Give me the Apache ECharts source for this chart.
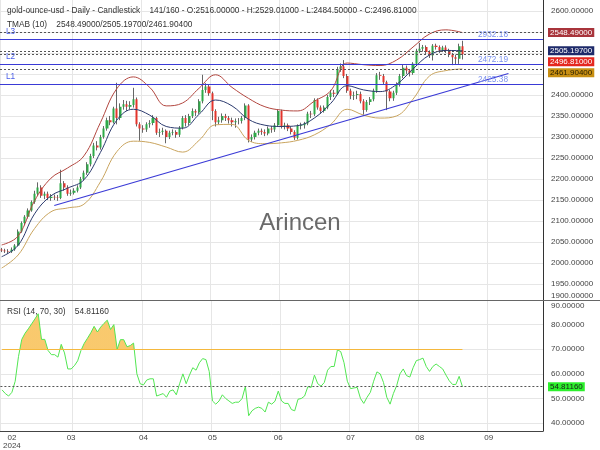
<!DOCTYPE html>
<html><head><meta charset="utf-8">
<script src="https://cdn.jsdelivr.net/npm/echarts@6/dist/echarts.min.js"></script>
<style>html,body{margin:0;padding:0;background:#fff}#c{width:600px;height:450px}</style>
</head><body><div id="c"></div>
<script>
const FONT = "'Liberation Sans', Arial, sans-serif";
const SLOTS = 165;
const headerText = 'gold-ounce-usd - Daily - Candlestick    141/160 - O:2516.00000 - H:2529.01000 - L:2484.50000 - C:2496.81000';
const tmabText = 'TMAB (10)    2548.49000/2505.19700/2461.90400';
const rsiText = 'RSI (14, 70, 30)    54.81160';

const opens = [2032,2030,2028,2027,2032,2042,2075,2095,2110,2125,
2145,2165,2180,2160,2165,2155,2158,2156,2155,2190,
2180,2165,2167,2172,2180,2200,2215,2235,2255,2280,
2275,2300,2320,2340,2335,2368,2345,2372,2378,2372,
2376,2390,2330,2320,2318,2330,2333,2345,2310,2312,
2315,2300,2310,2312,2305,2322,2345,2333,2350,2362,
2358,2385,2412,2420,2404,2362,2335,2340,2350,2345,
2340,2335,2338,2338,2345,2375,2294,2300,2310,2315,
2312,2308,2320,2318,2328,2362,2325,2328,2320,2312,
2298,2326,2328,2332,2355,2354,2388,2370,2362,2370,
2395,2405,2403,2462,2468,2445,2410,2398,2400,2402,
2385,2364,2383,2390,2410,2447,2445,2430,2408,2392,
2405,2425,2445,2465,2458,2452,2474,2505,2510,2514,
2502,2494,2517,2514,2506,2513,2506,2496,2490,2486,
2516];
const closes = [2030,2028,2027,2032,2042,2075,2095,2110,2125,2145,
2165,2180,2160,2165,2155,2158,2156,2155,2190,2180,
2165,2167,2172,2180,2200,2215,2235,2255,2280,2275,
2300,2320,2340,2335,2368,2345,2372,2378,2372,2376,
2390,2330,2320,2318,2330,2333,2345,2310,2312,2315,
2300,2310,2312,2305,2322,2345,2333,2350,2362,2358,
2385,2412,2420,2404,2362,2335,2340,2350,2345,2340,
2335,2338,2338,2345,2375,2294,2300,2310,2315,2312,
2308,2320,2318,2328,2362,2325,2328,2320,2312,2298,
2326,2328,2332,2355,2354,2388,2370,2362,2370,2395,
2405,2403,2462,2468,2445,2410,2398,2400,2402,2385,
2364,2383,2390,2410,2447,2445,2430,2408,2392,2405,
2425,2445,2465,2458,2452,2474,2505,2510,2514,2502,
2494,2517,2514,2506,2513,2506,2496,2490,2486,2516,
2496.81];
const lows = [2026,2024,2022,2024,2029,2040,2072,2090,2106,2122,
2141,2160,2155,2152,2150,2148,2150,2148,2152,2172,
2160,2160,2163,2168,2176,2196,2210,2230,2250,2268,
2270,2296,2315,2328,2332,2330,2340,2365,2362,2366,
2370,2325,2291,2310,2312,2322,2328,2305,2300,2305,
2285,2295,2304,2298,2300,2318,2325,2328,2345,2350,
2355,2380,2405,2398,2340,2325,2330,2334,2338,2332,
2325,2322,2330,2332,2340,2287,2288,2294,2304,2305,
2302,2304,2310,2312,2324,2320,2318,2314,2306,2293,
2294,2318,2320,2328,2345,2350,2365,2355,2358,2366,
2388,2395,2400,2455,2440,2405,2390,2388,2390,2380,
2353,2360,2376,2385,2405,2436,2425,2364,2385,2386,
2400,2420,2440,2450,2444,2448,2470,2500,2503,2497,
2488,2482,2508,2500,2502,2500,2490,2471,2472,2474,
2484.5];
const highs = [2036,2034,2033,2037,2045,2080,2099,2114,2130,2149,
2172,2192,2185,2170,2170,2164,2163,2162,2222,2195,
2185,2175,2178,2185,2205,2220,2240,2260,2286,2290,
2305,2326,2346,2350,2372,2429,2380,2388,2386,2385,
2417,2394,2335,2328,2335,2340,2352,2348,2320,2322,
2318,2315,2318,2316,2326,2350,2352,2355,2368,2366,
2390,2448,2428,2425,2408,2366,2348,2356,2355,2350,
2346,2344,2345,2350,2380,2378,2306,2315,2320,2320,
2318,2325,2326,2333,2366,2365,2334,2332,2325,2316,
2330,2334,2336,2360,2362,2392,2392,2375,2375,2400,
2412,2412,2467,2475,2483,2450,2415,2408,2410,2408,
2390,2388,2395,2415,2452,2455,2450,2434,2412,2410,
2430,2450,2472,2470,2462,2478,2510,2524,2519,2518,
2506,2521,2522,2518,2517,2518,2510,2500,2496,2522,
2529.01];

const bandIdx = [0,5,10,15,20,25,30,35,40,45,50,55,60,65,70,75,80,85,90,95,100,105,110,115,120,125,130,135,140];
const tmabUpper = [2043,2064,2148,2202,2226,2255,2334,2415,2443,2418,2374,2381,2416,2448,2418,2392,2372,2364,2362,2385,2410,2476,2472,2470,2483,2514,2545,2555,2548.49];
const tmabMid = [2015,2042,2117,2160,2178,2198,2263,2340,2366,2352,2325,2321,2354,2388,2374,2342,2328,2325,2327,2345,2380,2422,2412,2408,2425,2462,2495,2506,2505.197];
const tmabLower = [1988,2019,2082,2122,2131,2140,2193,2265,2290,2287,2276,2264,2292,2329,2330,2292,2284,2286,2292,2305,2330,2366,2352,2345,2350,2390,2445,2458,2461.904];

const rsi = [53.5,52,51,52.5,57,67,74,76.5,78.3,80.3,
82.3,84.4,74,74,69.5,67.8,67.8,66.8,72,68.5,
62,62,63.3,65.3,69.5,72.4,74.5,76.7,79.3,77,
79,80.5,81.8,78,80,70,73.9,73.9,71,71.5,
72.5,60,56,55.5,57.5,58,58,51,51.5,52,
50.5,53,53.5,51.5,56,60,56,59.5,62.5,61.5,
64.5,66.2,65.8,61,49,47.7,49,51.5,50,49,
48,48.5,48.5,50,54.9,43,45,46,46.5,46,
44.5,48.5,47.7,48.9,53,49,48,48,45.5,45,
49.7,50,51,54.8,54.5,59.5,56,55,56.5,61.5,
63,63,69.8,69,64.5,57,54,54.3,54.5,50,
48,50.5,52.5,57,60.8,60,56.5,50.5,47.7,52,
55.2,60,62,59.3,58.7,62.5,65.4,65.8,66.4,63,
61,63,64,63,62,59.5,57.2,55.7,55.7,59,
54.8116];

const trendPoints = [[16, 2137], [154, 2451]];
const levelValues = [2532.18, 2472.19, 2425.38];
const levelNames = ['L3', 'L2', 'L1'];
const levelTexts = ['2932.18', '2472.19', '2425.38'];
const tmabLast = [2548.49, 2505.197, 2461.904];
const lastClose = 2496.81;
const rsiLast = 54.8116;
const rsiOverbought = 70;

const priceTicks = [1950,2000,2050,2100,2150,2200,2250,2300,2350,2400,2450,2500,2550,2600];
const rsiTicks = [40,50,60,70,80,90];
const monthGridIdx = [0,22,43,64,85,106,127,148];
const monthLabelIdx = [3,21,43,64,84,106,127,148];
const monthLabelText = ['02\n2024','03','04','05','06','07','08','09'];

const cats = Array.from({length: SLOTS}, (_, i) => String(i));
const ohlc = opens.map((o, i) => [o, closes[i], lows[i], highs[i]]);
const gridSet = new Set(monthGridIdx);
const labelMap = {};
monthLabelIdx.forEach((ix, k) => { labelMap[ix] = monthLabelText[k]; });
const band = arr => bandIdx.map((ix, k) => [ix, arr[k]]);

const UP = '#2eaa48', DOWN = '#e3342c', BLUE = '#3a3ad6', LBLUE = '#7c92ee';
const gridLine = {show: true, lineStyle: {color: '#e6e6e6', width: 1}};

const levelMarks = [];
levelValues.forEach((v, k) => {
  levelMarks.push({yAxis: v, lineStyle: {color: BLUE, width: 1, type: 'solid'},
    label: {show: true, formatter: levelTexts[k], position: 'insideEndTop', distance: [35, 1], color: LBLUE, fontSize: 8.3, fontFamily: FONT}});
  levelMarks.push({yAxis: v, lineStyle: {color: 'rgba(0,0,0,0)', width: 1, type: 'solid'},
    label: {show: true, formatter: levelNames[k], position: 'insideStartTop', distance: [6, 4], color: '#4a5ee8', fontSize: 8.3, fontFamily: FONT}});
});
[...tmabLast, lastClose].forEach(v => {
  levelMarks.push({yAxis: v, lineStyle: {color: '#555', width: 1, type: [2, 2]}, label: {show: false}});
});

const titleStyle = {fontSize: 8.3, lineHeight: 9, fontWeight: 'normal', color: '#333', fontFamily: FONT};
const option = {
  animation: false,
  textStyle: {fontFamily: FONT},
  title: [
    {text: headerText, left: 7, top: 6, padding: 0, textStyle: titleStyle},
    {text: tmabText, left: 7, top: 20.5, padding: 0, textStyle: titleStyle},
    {text: rsiText, left: 7, top: 307, padding: 0, textStyle: titleStyle}
  ],
  grid: [
    {left: 0, right: 57, top: 0, height: 300},
    {left: 0, right: 57, top: 300, height: 132}
  ],
  xAxis: [
    {type: 'category', gridIndex: 0, data: cats, boundaryGap: true,
     axisLine: {show: false}, axisTick: {show: false}, axisLabel: {show: false},
     splitLine: {show: true, interval: (i) => gridSet.has(i), lineStyle: {color: '#e6e6e6'}}},
    {type: 'category', gridIndex: 1, data: cats, boundaryGap: true,
     axisLine: {show: true, lineStyle: {color: '#444'}}, axisTick: {show: false},
     axisLabel: {interval: (i) => labelMap[i] !== undefined, formatter: (v) => labelMap[+v] || '',
       fontSize: 8, lineHeight: 8, color: '#444', margin: 3, fontFamily: FONT},
     splitLine: {show: true, interval: (i) => gridSet.has(i), lineStyle: {color: '#e6e6e6'}}}
  ],
  yAxis: [
    {type: 'value', gridIndex: 0, position: 'right', min: 1912, max: 2626,
     axisLine: {show: true, lineStyle: {color: '#333'}},
     axisTick: {show: false, customValues: priceTicks},
     axisLabel: {customValues: [1912, ...priceTicks], formatter: (v) => (v < 1925 ? 1900 : v).toFixed(5),
       fontSize: 8, color: '#444', margin: 8, verticalAlignMinLabel: 'bottom', fontFamily: FONT},
     splitLine: gridLine},
    {type: 'value', gridIndex: 1, position: 'right', min: 36.8, max: 90,
     axisLine: {show: true, lineStyle: {color: '#333'}},
     axisTick: {show: false, customValues: rsiTicks},
     axisLabel: {customValues: rsiTicks, formatter: (v) => v.toFixed(5),
       fontSize: 8, color: '#444', margin: 8, verticalAlignMaxLabel: 'top', padding: [2, 0, 0, 0], fontFamily: FONT},
     splitLine: gridLine}
  ],
  visualMap: [{show: false, type: 'piecewise', seriesIndex: 6, dimension: 1,
    pieces: [{gte: 0, lt: rsiOverbought, color: 'rgba(247,190,80,0)'}, {gte: rsiOverbought, lte: 100, color: '#f8c054'}]}],
  series: [
    {type: 'candlestick', name: 'wick', xAxisIndex: 0, yAxisIndex: 0, data: ohlc, barWidth: 0.1, silent: true,
     itemStyle: {color: 'transparent', color0: 'transparent', borderColor: '#666', borderColor0: '#666', borderWidth: 1}},
    {type: 'candlestick', name: 'body', xAxisIndex: 0, yAxisIndex: 0, data: ohlc, barWidth: 2.6, silent: true,
     itemStyle: {color: UP, color0: DOWN, borderColor: UP, borderColor0: DOWN, borderWidth: 0}},
    {type: 'line', xAxisIndex: 0, yAxisIndex: 0, data: band(tmabUpper), smooth: 0.4, symbol: 'none', lineStyle: {color: '#b2463f', width: 1}},
    {type: 'line', xAxisIndex: 0, yAxisIndex: 0, data: band(tmabMid), smooth: 0.4, symbol: 'none', lineStyle: {color: '#2b3a6e', width: 1}},
    {type: 'line', xAxisIndex: 0, yAxisIndex: 0, data: band(tmabLower), smooth: 0.4, symbol: 'none', lineStyle: {color: '#c9a45e', width: 1}},
    {type: 'line', xAxisIndex: 0, yAxisIndex: 0, data: trendPoints, symbol: 'none', lineStyle: {color: BLUE, width: 1.2},
     markLine: {silent: true, symbol: ['none', 'none'], animation: false, data: levelMarks}},
    {type: 'line', xAxisIndex: 1, yAxisIndex: 1, data: rsi, symbol: 'none', lineStyle: {width: 0, opacity: 0},
     areaStyle: {origin: 'start', opacity: 0.85}},
    {type: 'line', xAxisIndex: 1, yAxisIndex: 1, data: rsi, symbol: 'none', lineStyle: {color: '#52e652', width: 1},
     markLine: {silent: true, symbol: ['none', 'none'], animation: false, label: {show: false}, data: [
       [{xAxis: 0, yAxis: rsiOverbought, lineStyle: {color: '#f5b83d', width: 1, type: 'solid'}}, {xAxis: 140, yAxis: rsiOverbought}],
       {yAxis: rsiLast, lineStyle: {color: '#555', width: 1, type: [2, 2]}}
     ]}}
  ]
};

const chart = echarts.init(document.getElementById('c'), null, {renderer: 'canvas'});
chart.setOption(option);

const tagFont = "8px 'Liberation Sans', Arial, sans-serif";
const tagDefs = [
  {v: tmabLast[0], bg: '#a8343b', fg: '#fff'},
  {v: tmabLast[1], bg: '#1e2a6a', fg: '#fff'},
  {v: lastClose, bg: '#e4271f', fg: '#fff'},
  {v: tmabLast[2], bg: '#c88f12', fg: '#2a2000'}
];
const graphics = [
  {type: 'line', id: 'sep', shape: {x1: 0, y1: 300.5, x2: 600, y2: 300.5}, style: {stroke: '#666', lineWidth: 1}, z: 50, silent: true},
  {type: 'text', id: 'wm', x: 300, y: 223, style: {text: 'Arincen', fill: 'rgba(80,80,80,0.85)', font: "24px 'Liberation Sans', Arial, sans-serif",
    textAlign: 'center', textVerticalAlign: 'middle', align: 'center', verticalAlign: 'middle'}, z: 0, silent: true}
];
let prev = -Infinity;
tagDefs.forEach((t, k) => {
  let y = chart.convertToPixel({yAxisIndex: 0}, t.v);
  y = Math.max(y, prev + 11);
  prev = y;
  graphics.push({type: 'text', id: 'tag' + k, x: 548, y: y, z: 60, silent: true,
    style: {text: t.v.toFixed(5), fill: t.fg, backgroundColor: t.bg, padding: [1, 2, 0, 2], font: tagFont,
      textVerticalAlign: 'middle', verticalAlign: 'middle'}});
});
const ry = chart.convertToPixel({yAxisIndex: 1}, rsiLast);
graphics.push({type: 'text', id: 'rsitag', x: 548, y: ry, z: 60, silent: true,
  style: {text: rsiLast.toFixed(5), fill: '#1a1a1a', backgroundColor: '#2cf02c', padding: [1, 2, 0, 2], font: tagFont,
    textVerticalAlign: 'middle', verticalAlign: 'middle'}});
chart.setOption({graphic: graphics});
</script>
</body></html>
